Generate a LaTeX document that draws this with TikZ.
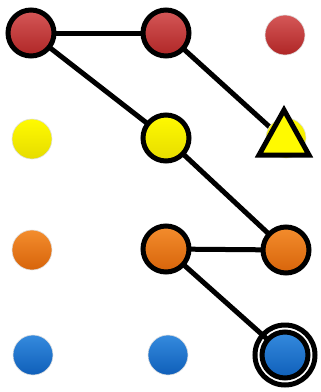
\documentclass[tikz,border=0pt]{standalone}
\usetikzlibrary{backgrounds}
\definecolor{rd}{RGB}{205,58,58}
\definecolor{rdd}{RGB}{175,38,38}
\definecolor{yl}{RGB}{255,250,0}
\definecolor{yld}{RGB}{230,220,0}
\definecolor{og}{RGB}{242,128,22}
\definecolor{ogd}{RGB}{215,100,10}
\definecolor{bl}{RGB}{30,125,218}
\definecolor{bld}{RGB}{15,95,185}
\begin{document}
\begin{tikzpicture}[x=1pt,y=-1pt,
  dot/.style={circle,inner sep=0pt,minimum size=40pt,draw=white!75!gray,line width=0.6pt},
  ring/.style={circle,inner sep=0pt,minimum size=46pt,draw=black,line width=5pt},
  red/.style={top color=rd!85!white,bottom color=rdd},
  yel/.style={top color=yl,bottom color=yld},
  ora/.style={top color=og!90!white,bottom color=ogd},
  blu/.style={top color=bl!90!white,bottom color=bld},
  link/.style={draw=black,line width=5pt},
  tri/.style={draw=black,fill=yl,line width=5pt,line join=miter}]
\useasboundingbox (0,0) rectangle (321,392);
% row 1
\node[ring,red] (r1) at (31,33) {};
\node[ring,red] (r2) at (166,33) {};
\node[dot,red] (r3) at (285,35) {};
% row 2
\node[dot,yel] (y1) at (32,139) {};
\node[ring,yel] (y2) at (166,138) {};
\node[dot,yel] (y3) at (286,138) {};
\draw[tri] (284,110) -- (309,155) -- (259,155) -- cycle;
\coordinate (t) at (284,140);
% row 3
\node[dot,ora] (o1) at (32,250) {};
\node[ring,ora] (o2) at (166,249) {};
\node[ring,ora] (o3) at (286,250) {};
% row 4
\node[dot,blu] (b1) at (33,355) {};
\node[dot,blu] (b2) at (168,355) {};
\node[ring,blu] (b3) at (285,355) {};
\draw[line width=5pt] (b3.center) circle (30);
\begin{scope}[on background layer]
\draw[link] (r1.center) -- (r2.center);
\draw[link] (r1.center) -- (y2.center);
\draw[link] (r2.center) -- (t);
\draw[link] (y2.center) -- (o3.center);
\draw[link] (o2.center) -- (o3.center);
\draw[link] (o2.center) -- (b3.center);
\end{scope}
\end{tikzpicture}
\end{document}
